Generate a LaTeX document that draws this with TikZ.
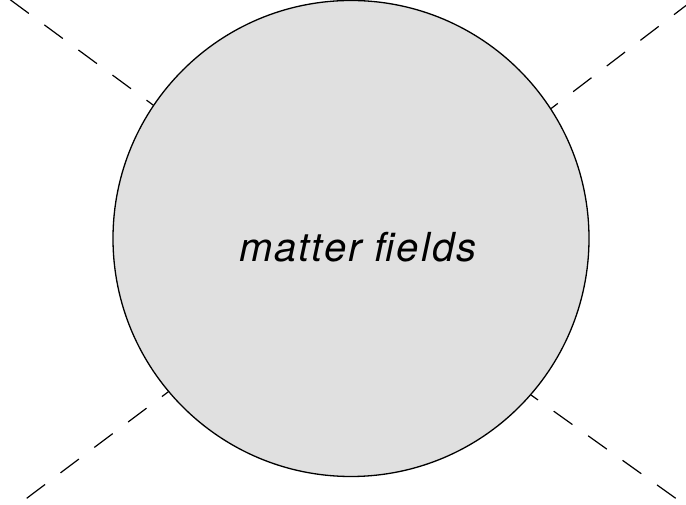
\documentclass[tikz,border=0pt]{standalone}
\usepackage{fontspec}
\newfontfamily\matterfont[LetterSpace=5]{TeX Gyre Heros}
\usetikzlibrary{calc}

\begin{document}
\begin{tikzpicture}[x=1pt,y=1pt]
  % canvas in pixel units, origin bottom left
  \useasboundingbox (0,0) rectangle (686,505);
  \tikzset{leg/.style={line width=1.2pt,dash pattern=on 23pt off 19.3pt}}

  % the blob of matter fields
  \node[circle,draw,fill=black!12,line width=1.3pt,minimum size=476pt,inner sep=0pt] (blob) at (351,266.5) {};
  \node[font=\matterfont\itshape\fontsize{40}{48}\selectfont,anchor=base west,inner sep=0pt] (lbl) at (239,243) {matter fields};

  % external legs (dashed), free ends outside
  \coordinate (tl) at (10.3,505.2);
  \coordinate (tr) at (692.3,504.3);
  \coordinate (bl) at (26.7,6.7);
  \coordinate (br) at (675.7,6.7);
  \draw[leg] (tl) -- (blob.146.2);
  \draw[leg] (tr) -- (blob.33.7);
  \draw[leg] (bl) -- (blob.220.2);
  \draw[leg] (br) -- (blob.319.9);
\end{tikzpicture}
\end{document}
